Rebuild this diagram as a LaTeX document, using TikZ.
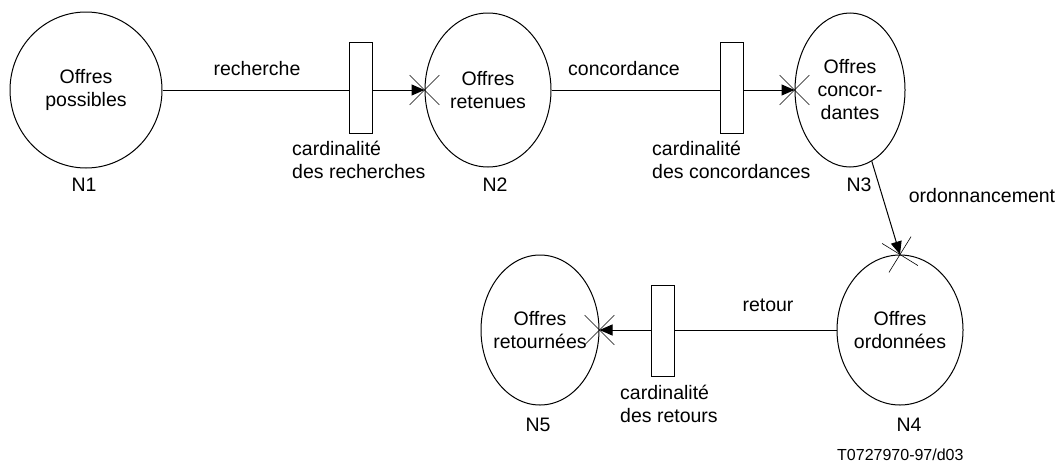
\documentclass[tikz,border=0pt]{standalone}
\usepackage{fontspec}
\setmainfont{Liberation Sans}
\usetikzlibrary{shapes.geometric,arrows.meta}
\begin{document}
\begin{tikzpicture}[x=1pt,y=-1pt,
  every node/.style={font=\fontsize{19.5}{23}\selectfont},
  place/.style={draw,ellipse,line width=1pt,inner sep=-30pt,align=center},
  gate/.style={draw,fill=white,rectangle,line width=1pt,inner sep=0pt,minimum width=23pt,minimum height=91pt},
  flow/.style={line width=1pt,-{Triangle[length=13pt,width=11pt]}},
  tick/.style={line width=0.6pt},
  lbl/.style={align=center,inner sep=0pt},
  card/.style={align=left,inner sep=0pt,anchor=west}]
\useasboundingbox (0,0) rectangle (1064,466);

% places
\node[place,minimum width=152pt,minimum height=156pt] (n1) at (86,90) {Offres\\possibles};
\node[place,minimum width=126pt,minimum height=154pt] (n2) at (488,90) {Offres\\retenues};
\node[place,minimum width=110pt,minimum height=154pt] (n3) at (850,90) {Offres\\concor-\\dantes};
\node[place,minimum width=126pt,minimum height=150pt] (n4) at (900,330) {Offres\\ordonn\'ees};
\node[place,minimum width=118pt,minimum height=150pt] (n5) at (540,330) {Offres\\retourn\'ees};

% place names
\node[lbl] (l1) at (84,185) {N1};
\node[lbl] (l2) at (495,185) {N2};
\node[lbl] (l3) at (859,185) {N3};
\node[lbl] (l4) at (909,425) {N4};
\node[lbl] (l5) at (538,425) {N5};

% arcs
\draw[flow] (n1.east) -- (n2.west);
\draw[flow] (n2.east) -- (n3.west);
\draw[flow] (n3.-73) -- (n4.north);
\draw[flow] (n4.west) -- (n5.east);

% crossing marks at arc ends
\draw[tick] (n2.west) ++(45:21) -- ++(225:42);
\draw[tick] (n2.west) ++(135:21) -- ++(315:42);
\draw[tick] (n3.west) ++(45:21) -- ++(225:42);
\draw[tick] (n3.west) ++(135:21) -- ++(315:42);
\draw[tick] (n4.north) ++(31.7:21) -- ++(211.7:42);
\draw[tick] (n4.north) ++(121.7:21) -- ++(301.7:42);
\draw[tick] (n5.east) ++(45:21) -- ++(225:42);
\draw[tick] (n5.east) ++(135:21) -- ++(315:42);

% cardinality gates
\node[gate] (g1) at (361,88) {};
\node[gate] (g2) at (731.5,88) {};
\node[gate] (g3) at (663,330.5) {};

% arc labels
\node[lbl] (t1) at (257,69) {recherche};
\node[lbl] (t2) at (624,69) {concordance};
\node[lbl] (t3) at (982,196) {ordonnancement};
\node[lbl] (t4) at (768,305) {retour};
\node[card] (c1) at (292,160) {cardinalit\'e\\des recherches};
\node[card] (c2) at (652,160) {cardinalit\'e\\des concordances};
\node[card] (c3) at (620,404) {cardinalit\'e\\des retours};

\node[lbl,font=\fontsize{16}{19}\selectfont,anchor=west] (ref) at (837,455) {T0727970-97/d03};
\end{tikzpicture}
\end{document}
